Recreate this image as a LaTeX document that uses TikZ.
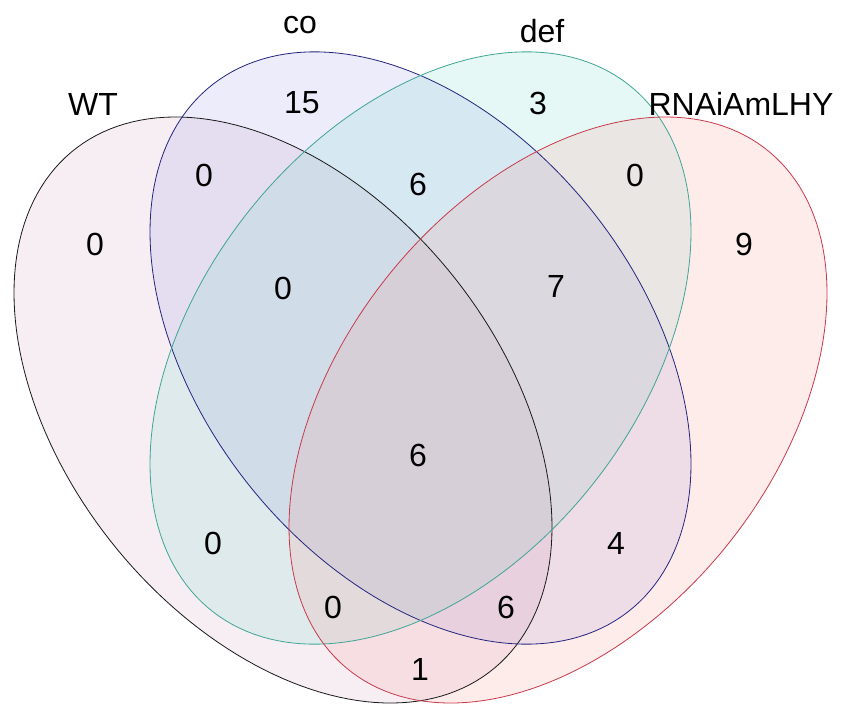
\documentclass[tikz,border=0pt]{standalone}
\usepackage{fontspec}
\setmainfont{Liberation Sans}
\definecolor{wtline}{HTML}{1A1A1A}
\definecolor{coline}{HTML}{25257F}
\definecolor{defline}{HTML}{3FA595}
\definecolor{rnline}{HTML}{C83A4A}
\definecolor{wtfill}{RGB}{210,150,190}
\definecolor{cofill}{RGB}{140,140,225}
\definecolor{deffill}{RGB}{100,215,195}
\definecolor{rnfill}{RGB}{250,140,135}
\begin{document}
\begin{tikzpicture}[x=1pt,y=-1pt,
  num/.style={font=\fontsize{32}{38}\selectfont, inner sep=0pt},
  lab/.style={font=\fontsize{32}{38}\selectfont, inner sep=0pt, anchor=base},
  setfill/.style={fill opacity=0.16, draw=none},
  setline/.style={line width=0.8pt, fill=none}]
\useasboundingbox (0,0) rectangle (848,704);
\fill[white] (0,0) rectangle (848,704);
% fills
\path[setfill, fill=wtfill] plot[domain=0:360, samples=181, variable=\t] ({283+269*cos(\t)}, {410+117.1*cos(\t)+268.6*sin(\t)}) -- cycle;
\path[setfill, fill=cofill] plot[domain=0:360, samples=181, variable=\t] ({420.5+270.5*cos(\t)}, {348+116*cos(\t)+272.5*sin(\t)}) -- cycle;
\path[setfill, fill=deffill] plot[domain=0:360, samples=181, variable=\t] ({420.5+270.5*cos(\t)}, {348-116*cos(\t)+272.5*sin(\t)}) -- cycle;
\path[setfill, fill=rnfill] plot[domain=0:360, samples=181, variable=\t] ({558+269*cos(\t)}, {410-117.1*cos(\t)+268.6*sin(\t)}) -- cycle;
% outlines
\draw[setline, draw=wtline] plot[domain=0:360, samples=181, variable=\t] ({283+269*cos(\t)}, {410+117.1*cos(\t)+268.6*sin(\t)}) -- cycle;
\draw[setline, draw=coline] plot[domain=0:360, samples=181, variable=\t] ({420.5+270.5*cos(\t)}, {348+116*cos(\t)+272.5*sin(\t)}) -- cycle;
\draw[setline, draw=defline] plot[domain=0:360, samples=181, variable=\t] ({420.5+270.5*cos(\t)}, {348-116*cos(\t)+272.5*sin(\t)}) -- cycle;
\draw[setline, draw=rnline] plot[domain=0:360, samples=181, variable=\t] ({558+269*cos(\t)}, {410-117.1*cos(\t)+268.6*sin(\t)}) -- cycle;
% set labels
\node[lab] (lwt) at (93,115) {WT};
\node[lab] (lco) at (300,33) {co};
\node[lab] (ldef) at (542,42) {def};
\node[lab] (lrn) at (741,115) {RNAiAmLHY};
% counts
\node[num] (n1) at (95,244) {0};
\node[num] (n2) at (302,103) {15};
\node[num] (n3) at (538,103) {3};
\node[num] (n4) at (744,244) {9};
\node[num] (n5) at (204,175) {0};
\node[num] (n6) at (418,184) {6};
\node[num] (n7) at (635,175) {0};
\node[num] (n8) at (283,288) {0};
\node[num] (n9) at (556,286) {7};
\node[num] (n10) at (418,455) {6};
\node[num] (n11) at (213,543) {0};
\node[num] (n12) at (616,543) {4};
\node[num] (n13) at (333,607) {0};
\node[num] (n14) at (506,607) {6};
\node[num] (n15) at (420,669) {1};
\end{tikzpicture}
\end{document}
